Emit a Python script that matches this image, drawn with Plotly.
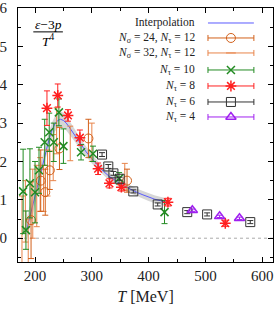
import plotly.graph_objects as go

# ---------------- data ----------------
interp_T = [185, 190, 195, 200, 205, 210, 215, 220, 225, 230, 235, 240, 245, 250, 255, 260,
            270, 280, 290, 300, 310, 320, 330, 340, 350, 360, 370, 380, 390, 400, 410, 420, 430]
interp_v = [0.2, 0.5, 0.85, 1.15, 1.45, 1.75, 2.05, 2.35, 2.6, 2.82, 2.98, 3.07, 3.1, 3.07, 3.0, 2.9,
            2.68, 2.45, 2.25, 2.07, 1.9, 1.75, 1.62, 1.51, 1.42, 1.34, 1.26, 1.19, 1.13, 1.07, 1.02, 0.98, 0.95]
interp_err = [0.3, 0.28, 0.26, 0.24, 0.22, 0.21, 0.2, 0.2, 0.2, 0.2, 0.2, 0.2, 0.2, 0.2, 0.19, 0.18,
              0.16, 0.14, 0.13, 0.12, 0.11, 0.1, 0.1, 0.1, 0.1, 0.1, 0.1, 0.1, 0.1, 0.1, 0.1, 0.1, 0.1]

s24_T = [193, 210, 218, 226, 243, 294, 362]
s24_v = [0.47, 1.5, 1.2, 1.77, 2.34, 2.6, 1.5]
s24_e = [1.0, 0.8, 0.6, 0.5, 0.55, 0.5, 0.3]

s32_T = [177, 183, 188, 196, 203, 209, 215, 222, 232, 238, 262, 300, 358]
s32_v = [0.2, 0.7, -0.1, 0.9, 1.1, 1.4, 1.3, 1.7, 2.1, 2.8, 2.47, 2.5, 1.6]
s32_e = [0.9, 0.8, 0.6, 0.9, 0.8, 0.7, 0.6, 0.6, 0.6, 0.6, 0.45, 0.5, 0.35]

n10_T = [179, 184, 191, 200, 207, 217, 225, 233, 242, 250, 281, 302, 348, 428]
n10_v = [1.22, 0.21, 1.43, 1.2, 1.77, 2.5, 2.76, 2.5, 3.28, 2.4, 2.24, 2.2, 1.56, 0.68]
n10_e = [1.1, 0.5, 0.9, 0.8, 0.6, 0.6, 0.5, 0.5, 0.35, 0.45, 0.2, 0.2, 0.15, 0.3]

n8_T = [221, 240, 258, 279, 311, 331, 352, 434, 535]
n8_v = [3.39, 3.72, 3.2, 2.62, 1.81, 1.43, 1.33, 0.94, 0.39]
n8_e = [0.45, 0.3, 0.15, 0.2, 0.15, 0.12, 0.1, 0.1, 0.08]

n6_T = [318, 329, 338, 349, 373, 416, 468, 503, 579]
n6_v = [2.18, 1.87, 1.69, 1.55, 1.22, 0.88, 0.68, 0.62, 0.42]
n6_e = [0.05, 0.05, 0.05, 0.04, 0.04, 0.04, 0.04, 0.04, 0.04]

n4_T = [477, 525, 560]
n4_v = [0.73, 0.57, 0.52]
n4_e = [0.03, 0.03, 0.03]

legend_labels = ["Interpolation",
                 "<i>N</i><sub>σ</sub> = 24, <i>N</i><sub>τ</sub> = 12",
                 "<i>N</i><sub>σ</sub> = 32, <i>N</i><sub>τ</sub> = 12",
                 "<i>N</i><sub>τ</sub> = 10",
                 "<i>N</i><sub>τ</sub> = 8",
                 "<i>N</i><sub>τ</sub> = 6",
                 "<i>N</i><sub>τ</sub> = 4"]

# ---------------- styles ----------------
C_INT = "#5a5aff"
C24 = "#d2601a"
C32 = "#e8844a"
C10 = "#228b22"
C8 = "#ff2020"
C6 = "#333333"
C4 = "#a020f0"
FONT = "Liberation Serif"

fig = go.Figure()

# zero line
fig.add_trace(go.Scatter(x=[170, 619], y=[0, 0], mode="lines",
                         line=dict(color="#aaaaaa", width=1, dash="dot"), hoverinfo="skip"))

# band
upper = [v + e for v, e in zip(interp_v, interp_err)]
lower = [v - e for v, e in zip(interp_v, interp_err)]
fig.add_trace(go.Scatter(x=interp_T + interp_T[::-1], y=upper + lower[::-1], fill="toself",
                         fillcolor="rgba(200,200,200,0.75)", line=dict(width=0), mode="lines"))
fig.add_trace(go.Scatter(x=interp_T, y=interp_v, mode="lines", line=dict(color=C_INT, width=1)))


def series(T, v, e, color, symbol, size, lw=1.0, show_marker=True):
    fig.add_trace(go.Scatter(
        x=T, y=v, mode="markers",
        marker=dict(symbol=symbol, size=size if show_marker else 0.1, color=color,
                    line=dict(color=color, width=lw)),
        error_y=dict(type="data", array=e, visible=True, color=color, thickness=1, width=3)))


series(s32_T, s32_v, s32_e, C32, "line-ew", 1, show_marker=False)
series(s24_T, s24_v, s24_e, C24, "circle-open", 9)
series(n10_T, n10_v, n10_e, C10, "x-thin-open", 8, lw=1.5)
series(n8_T, n8_v, n8_e, C8, "asterisk-open", 9, lw=1.5)
series(n6_T, n6_v, n6_e, C6, "square-open", 9)
series(n4_T, n4_v, n4_e, C4, "triangle-up-open", 9, lw=1.5)

# ---------------- custom legend (overlay axis in plot-fraction units) ----------------
leg_y = [0.941, 0.882, 0.823, 0.756, 0.693, 0.630, 0.571]
leg_colors = [C_INT, C24, C32, C10, C8, C6, C4]
leg_symbols = [None, "circle-open", "line-ew", "x-thin-open", "asterisk-open", "square-open", "triangle-up-open"]
leg_sizes = [0, 9, 7, 8, 9, 9, 9]
leg_lw = [1, 1, 1, 1.5, 1.5, 1, 1.5]
xs0, xs1, xm = 0.745, 0.925, 0.835
for i, (yy, col) in enumerate(zip(leg_y, leg_colors)):
    if i == 0:
        fig.add_trace(go.Scatter(x=[xs0, xs1], y=[yy, yy], mode="lines", xaxis="x2", yaxis="y2",
                                 line=dict(color=col, width=1)))
    else:
        fig.add_trace(go.Scatter(x=[xm], y=[yy], mode="markers", xaxis="x2", yaxis="y2",
                                 marker=dict(symbol=leg_symbols[i], size=leg_sizes[i], color=col,
                                             line=dict(color=col, width=leg_lw[i])),
                                 error_x=dict(type="constant", value=xs1 - xm, color=col,
                                              thickness=1, width=3)))
    fig.add_annotation(x=0.702, y=yy, xref="x2", yref="y2", text=legend_labels[i],
                       showarrow=False, xanchor="right", yanchor="middle",
                       font=dict(family=FONT, size=11.5, color="#222"))

# fraction label
fig.add_annotation(x=0.118, y=0.935, xref="x2", yref="y2", text="<i>ε</i>−3<i>p</i>",
                   showarrow=False, xanchor="center", yanchor="middle",
                   font=dict(family=FONT, size=13.5, color="black"))
fig.add_annotation(x=0.118, y=0.873, xref="x2", yref="y2", text="<i>T</i><sup>4</sup>",
                   showarrow=False, xanchor="center", yanchor="middle",
                   font=dict(family=FONT, size=13.5, color="black"))
fig.add_shape(type="line", xref="x2", yref="y2", x0=0.06, x1=0.176, y0=0.906, y1=0.906,
              line=dict(color="black", width=1))

axis_common = dict(showgrid=False, zeroline=False, showline=True, linecolor="black", linewidth=1,
                   mirror="ticks", ticks="inside", ticklen=5, tickcolor="black", automargin=False,
                   tickfont=dict(family=FONT, size=15, color="#222"))
fig.update_layout(
    width=279, height=313,
    margin=dict(l=18, r=6, t=8, b=51),
    paper_bgcolor="white", plot_bgcolor="white",
    showlegend=False,
    xaxis=dict(range=[170, 619], tickvals=[200, 300, 400, 500, 600],
               minor=dict(tickvals=[250, 350, 450, 550], ticks="inside", ticklen=3, tickcolor="black"),
               title=dict(text="<i>T</i> [MeV]", font=dict(family=FONT, size=16, color="#222"), standoff=7),
               **axis_common),
    yaxis=dict(range=[-0.62, 6], tickvals=[0, 1, 2, 3, 4, 5, 6], ticklabelstandoff=7,
               minor=dict(dtick=0.5, ticks="inside", ticklen=3, tickcolor="black"),
               **axis_common),
    xaxis2=dict(range=[0, 1], overlaying="x", visible=False, fixedrange=True),
    yaxis2=dict(range=[0, 1], overlaying="y", visible=False, fixedrange=True),
)

fig.write_html("out.html", config={"displayModeBar": False},
               post_script="document.body.style.margin='0';document.body.style.padding='0';"
                           "document.body.style.overflow='hidden';")
